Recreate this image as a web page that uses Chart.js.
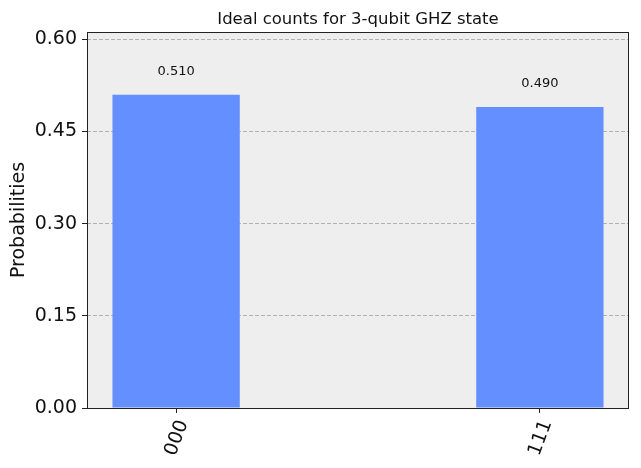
<!DOCTYPE html>
<html>
<head>
<meta charset="utf-8">
<script src="https://cdn.jsdelivr.net/npm/chart.js@4/dist/chart.umd.min.js"></script>
<style>
  body { margin: 0; background: #fff; }
  #wrap { width: 641px; height: 468px; }
</style>
</head>
<body>
<div id="wrap"><canvas id="histCv" width="641" height="468"></canvas></div>
<script>
// data
var states = ['000', '111'];
var probs = [0.510, 0.490];
var yTicks = [0.00, 0.15, 0.30, 0.45, 0.60];
var yMax = 0.612;
var chartTitle = 'Ideal counts for 3-qubit GHZ state';

var FONT = 'DejaVu Sans';

// background + frame + title + value labels
var histPlugin = {
  id: 'histPlugin',
  beforeDraw: function (chart) {
    var ctx = chart.ctx, a = chart.chartArea;
    ctx.save();
    ctx.fillStyle = '#ffffff';
    ctx.fillRect(0, 0, chart.width, chart.height);
    ctx.fillStyle = '#eeeeee';
    ctx.fillRect(a.left, a.top, a.right - a.left, a.bottom - a.top);
    ctx.restore();
  },
  afterDatasetsDraw: function (chart) {
    var ctx = chart.ctx, a = chart.chartArea;
    ctx.save();
    // value labels
    ctx.fillStyle = '#111';
    ctx.font = '13px "' + FONT + '"';
    ctx.textAlign = 'center';
    ctx.textBaseline = 'middle';
    var meta = chart.getDatasetMeta(0);
    meta.data.forEach(function (el, i) {
      ctx.fillText(probs[i].toFixed(3), el.x, el.y - 23);
    });
    // frame
    ctx.strokeStyle = '#222';
    ctx.lineWidth = 1;
    ctx.strokeRect(Math.round(a.left) + 0.5, Math.round(a.top) + 0.5,
      Math.round(a.right - a.left) - 1, Math.round(a.bottom - a.top));
    // title centred over the plot area
    ctx.fillStyle = '#111';
    ctx.font = '16.5px "' + FONT + '"';
    ctx.textBaseline = 'alphabetic';
    ctx.fillText(chartTitle, (a.left + a.right) / 2, 24);
    ctx.restore();
  }
};

var ctx = document.getElementById('histCv');
var chart = new Chart(ctx, {
  type: 'bar',
  data: {
    datasets: [{
      label: 'Probabilities',
      data: states.map(function (s, i) { return { x: i, y: probs[i] }; }),
      backgroundColor: '#648fff',
      borderWidth: 0,
      barPercentage: 0.35,
      categoryPercentage: 1.0
    }]
  },
  options: {
    responsive: false,
    animation: false,
    layout: { padding: { top: 32, right: 12, left: 0, bottom: 0 } },
    plugins: {
      legend: { display: false },
      tooltip: { enabled: false },
      title: { display: false }
    },
    scales: {
      x: {
        type: 'linear',
        min: -0.245,
        max: 1.245,
        offset: false,
        afterBuildTicks: function (scale) {
          scale.ticks = states.map(function (s, i) { return { value: i }; });
        },
        afterFit: function (scale) { scale.height = 60; },
        grid: {
          offset: false,
          drawOnChartArea: false,
          drawTicks: true,
          tickLength: 5,
          tickColor: '#222'
        },
        border: { display: false },
        ticks: {
          minRotation: 70,
          maxRotation: 70,
          padding: 4,
          labelOffset: 7,
          color: '#111',
          font: { family: FONT, size: 19 },
          callback: function (v) { return states[v]; }
        }
      },
      y: {
        min: 0,
        max: yMax,
        afterBuildTicks: function (scale) {
          scale.ticks = yTicks.map(function (v) { return { value: v }; });
        },
        afterFit: function (scale) { scale.width = 87; },
        grid: {
          color: '#b0b0b0',
          lineWidth: 1,
          tickLength: 5,
          tickColor: '#222',
          tickBorderDash: []
        },
        border: { display: false, dash: [4, 2] },
        ticks: {
          padding: 5,
          color: '#111',
          font: { family: FONT, size: 19 },
          callback: function (v) { return v.toFixed(2); }
        },
        title: {
          display: true,
          text: 'Probabilities',
          color: '#111',
          font: { family: FONT, size: 19 },
          padding: { top: 8, bottom: 0 }
        }
      }
    }
  },
  plugins: [histPlugin]
});
</script>
</body>
</html>
